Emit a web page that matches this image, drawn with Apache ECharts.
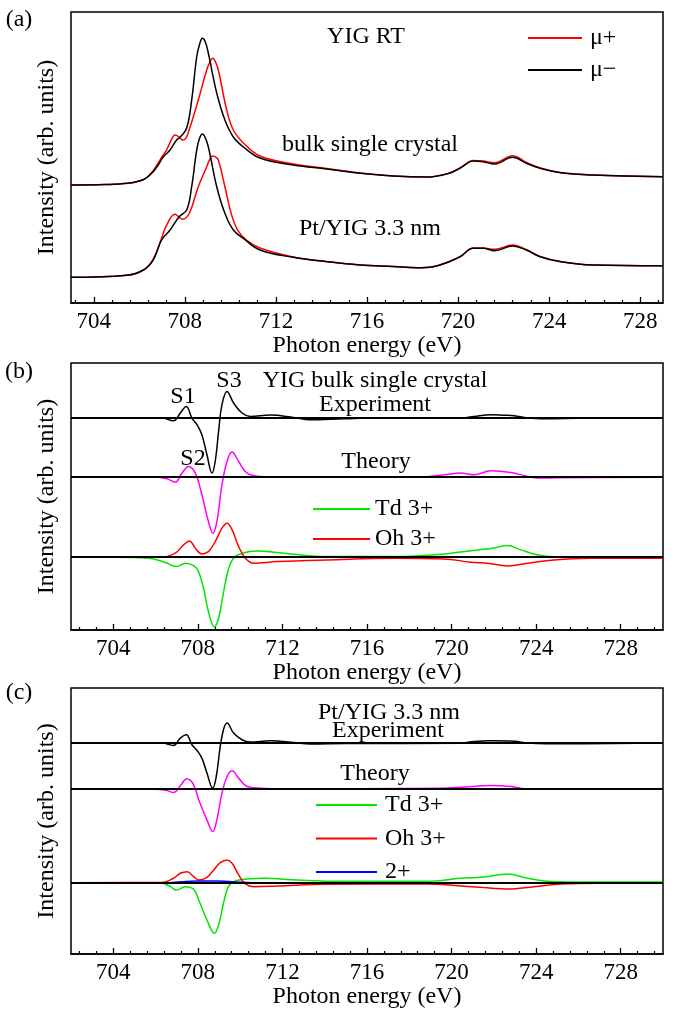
<!DOCTYPE html>
<html>
<head>
<meta charset="utf-8">
<script src="https://cdn.jsdelivr.net/npm/echarts@6/dist/echarts.min.js"></script>
<style>
  html, body { margin: 0; padding: 0; background: #fff; }
  #chart { width: 679px; height: 1013px; }
</style>
</head>
<body>
<div id="chart"></div>
<script>
// Fe L2,3-edge XMCD of YIG: (a) XAS for both helicities, (b) bulk crystal, (c) Pt/YIG 3.3 nm

const FONT = '"Liberation Serif", "Times New Roman", serif';

// axis ticks (eV)
const majorTicks = [704, 708, 712, 716, 720, 724, 728];
const minorTicksA = [703.2, 704.8, 705.6, 706.4, 707.2, 708.8, 709.6, 710.4, 711.2, 712.8, 713.6, 714.4, 715.2,
  716.8, 717.6, 718.4, 719.2, 720.8, 721.6, 722.4, 723.2, 724.8, 725.6, 726.4, 727.2, 728.8];
const minorTicksBC = [702.4, 703.2, 704.8, 705.6, 706.4, 707.2, 708.8, 709.6, 710.4, 711.2, 712.8, 713.6, 714.4, 715.2,
  716.8, 717.6, 718.4, 719.2, 720.8, 721.6, 722.4, 723.2, 724.8, 725.6, 726.4, 727.2, 728.8, 729.6];

// (a) bulk single crystal, mu+ and mu-
const bulkMuPlus = [[703.0,40.55],[704.5,40.72],[705.5,41.13],[706.0,41.92],[706.3,42.95],[706.6,45.36],[706.8,47.76],
  [707.05,50.85],[707.2,52.57],[707.4,56.01],[707.57,57.72],[707.75,57.04],[707.9,56.01],[708.05,56.69],[708.23,60.47],
  [708.59,69.75],[708.96,80.06],[709.1,82.8],[709.22,84.08],[709.35,82.8],[709.47,80.06],[709.84,66.31],[710.13,59.44],
  [710.57,54.98],[711.3,50.51],[712.76,47.76],[714.23,46.21],[715.7,44.67],[717.15,43.64],[718.6,43.29],[719.6,44.57],
  [720.1,46.49],[720.67,48.96],[721.1,48.79],[721.6,48.21],[722.4,50.61],[723.0,48.28],[723.6,46.39],[724.5,44.84],
  [725.9,43.98],[729.0,43.4]];
const bulkMuMinus = [[703.0,40.55],[704.5,40.72],[705.5,41.13],[706.0,41.92],[706.3,42.95],[706.6,45.01],[706.8,47.07],
  [707.05,50.17],[707.35,52.57],[707.64,56.01],[707.8,57.04],[708.08,60.13],[708.3,69.75],[708.52,84.53],[708.65,89.0],
  [708.77,90.95],[708.9,89.7],[709.03,85.9],[709.4,72.16],[709.76,62.88],[710.13,57.04],[710.57,53.6],[711.3,49.82],
  [712.76,47.42],[714.23,46.04],[715.7,44.57],[717.15,43.64],[718.6,43.29],[719.6,44.57],[720.1,46.39],[720.67,48.79],
  [721.1,48.55],[721.6,47.76],[722.4,50.06],[723.0,48.0],[723.6,46.28],[724.5,44.77],[725.9,43.98],[729.0,43.4]];

// (a) Pt/YIG 3.3 nm, mu+ and mu-
const filmMuPlus = [[703.0,8.83],[705.45,9.52],[706.18,11.34],[706.61,15.12],[706.98,22.33],[707.2,26.8],[707.57,30.48],
  [707.9,28.76],[708.2,30.92],[708.59,39.96],[708.96,46.83],[709.1,49.48],[709.22,50.51],[709.35,50.17],[709.47,49.13],
  [709.76,39.96],[710.03,30.92],[710.32,25.08],[710.7,21.65],[711.3,18.9],[712.76,15.81],[714.23,14.26],[715.7,13.06],
  [717.15,12.54],[718.2,12.13],[718.9,12.47],[719.6,14.19],[720.1,15.98],[720.67,18.9],[721.1,18.9],[721.6,18.45],
  [722.4,19.93],[723.0,18.32],[723.6,15.98],[724.5,14.26],[725.9,13.06],[729.0,12.82]];
const filmMuMinus = [[703.0,8.83],[705.45,9.52],[706.18,11.34],[706.61,14.77],[706.98,21.65],[707.35,25.08],[707.75,29.65],
  [708.08,31.95],[708.3,39.96],[708.52,52.57],[708.65,56.69],[708.77,58.07],[708.9,56.69],[709.03,53.7],[709.4,39.96],
  [709.76,30.82],[710.13,25.08],[710.57,22.23],[711.3,18.21],[712.76,15.7],[714.23,14.19],[715.7,13.06],[717.15,12.54],
  [718.2,12.13],[718.9,12.47],[719.6,14.19],[720.1,15.91],[720.67,18.79],[721.1,18.79],[721.6,17.97],[722.4,19.59],
  [723.0,18.21],[723.6,15.91],[724.5,14.19],[725.9,13.06],[729.0,12.82]];

// (b) bulk single crystal XMCD
const bulkBase = [79.39, 57.26, 27.26];
const bulkExp = [[702,79.39],[706.3,79.39],[706.85,78.38],[707.17,81.26],[707.45,83.74],[707.72,79.39],[707.96,76.88],
  [708.19,73.13],[708.43,65.63],[708.67,58.76],[708.82,63.11],[708.98,74.36],[709.14,84.38],[709.38,89.36],[709.69,85.01],
  [710.09,81.26],[710.48,79.99],[711.43,80.51],[712.53,79.61],[713.3,78.75],[714.9,79.13],[716.5,79.39],[720.4,79.31],
  [721.07,79.99],[721.86,80.63],[722.5,80.44],[722.96,80.25],[723.6,79.39],[724.5,79.13],[726,79.31],[730,79.39]];
const bulkTheory = [[702,57.26],[706.0,57.26],[706.54,56.63],[706.93,55.39],[707.25,58.76],[707.56,61.24],[707.88,58.76],
  [708.19,50.63],[708.5,40.61],[708.71,36.26],[708.9,40.61],[709.14,54.38],[709.38,63.11],[709.62,66.64],[709.93,63.11],
  [710.33,58.76],[710.96,57.49],[712,57.26],[718.5,57.26],[719.65,58.13],[720.44,58.76],[721.07,58.13],[721.86,59.63],
  [722.8,58.99],[723.6,57.49],[724.1,56.89],[725,57.04],[730,57.19]];
const bulkTd = [[702,27.26],[705.0,27.19],[705.9,26.63],[706.54,25.01],[707.0,23.74],[707.4,25.01],[707.8,24.11],
  [708.03,21.86],[708.27,15.64],[708.5,6.86],[708.78,1.24],[708.98,4.39],[709.22,14.36],[709.46,23.14],[709.69,26.89],
  [710.09,28.76],[710.8,29.63],[711.75,28.99],[713.0,28.01],[714.1,27.49],[717.27,27.49],[719.65,28.5],[720.44,29.25],
  [721.23,30.0],[722.0,30.75],[722.65,31.61],[723.28,30.0],[724.07,28.13],[725.2,27.38],[730,27.26]];
const bulkOh = [[702,27.26],[706.3,27.26],[706.93,28.76],[707.32,31.88],[707.6,33.38],[707.88,30.64],[708.19,28.5],
  [708.5,29.36],[708.82,33.11],[709.14,38.14],[709.38,40.01],[709.62,37.5],[709.93,31.24],[710.25,26.89],[710.64,25.01],
  [711.75,25.61],[714.1,26.25],[717.3,26.89],[719.65,26.63],[720.9,25.39],[721.7,25.01],[722.65,24.0],[723.6,25.01],
  [724.85,26.25],[726.5,26.89],[730,26.89]];

// (c) Pt/YIG 3.3 nm XMCD
const filmBase = [79.61, 62.55, 27.92];
const filmExp = [[702,79.61],[706.3,79.61],[706.85,78.72],[707.17,81.46],[707.45,82.69],[707.72,78.98],[707.96,76.87],
  [708.19,74.05],[708.43,68.49],[708.7,62.92],[708.87,67.23],[709.06,78.35],[709.22,84.8],[709.38,87.03],[709.69,83.32],
  [710.09,80.83],[710.48,79.98],[711.43,80.46],[712.53,79.83],[713.3,79.24],[715,79.42],[720.4,79.54],[721.07,80.2],
  [721.86,80.46],[722.96,80.28],[723.6,79.61],[724.5,79.35],[730,79.61]];
const filmTheory = [[702,62.55],[706.0,62.55],[706.54,62.03],[706.85,61.29],[707.17,63.78],[707.48,66.37],[707.8,64.15],
  [708.04,58.59],[708.43,51.17],[708.7,46.83],[708.9,51.17],[709.14,61.07],[709.38,67.23],[709.62,69.34],[709.93,66.63],
  [710.33,63.52],[710.96,62.92],[712,62.66],[719.5,62.92],[720.44,63.21],[721.86,63.89],[722.8,63.52],[723.6,62.55],
  [730,62.55]];
const filmTd = [[702,27.92],[705.5,27.81],[706.3,27.7],[706.7,26.44],[707.0,25.21],[707.4,26.44],[707.8,25.47],
  [708.04,21.51],[708.43,14.09],[708.78,9.16],[709.0,12.87],[709.25,21.51],[709.5,27.07],[709.95,28.92],[711.1,29.55],
  [712.7,28.92],[714.3,28.44],[718.85,28.44],[720.44,29.55],[721.5,30.03],[722.65,31.15],[723.6,29.55],[724.4,28.55],
  [726,28.18],[730,28.18]];
const filmOh = [[702,27.92],[706.3,27.99],[706.85,29.55],[707.17,31.41],[707.5,32.0],[707.8,30.15],[708.04,28.92],
  [708.43,29.92],[708.75,32.63],[709.06,35.34],[709.38,36.34],[709.62,35.11],[709.93,30.78],[710.25,27.44],[710.64,26.44],
  [711.75,26.7],[714.1,27.33],[718.85,27.44],[720.44,26.7],[721.5,26.14],[722.65,25.59],[723.9,26.44],[725.2,27.44],
  [727,27.7],[730,27.7]];
const filmFe2 = [[702,27.92],[706.5,27.92],[707.2,28.29],[708.0,28.55],[709.0,28.55],[709.8,28.18],[711,27.92],[730,27.92]];

const RED = '#ff0000', BLACK = '#000000', MAGENTA = '#ff00ff', GREEN = '#00e600', BLUE = '#0000ff';

const textStyle = { fontFamily: FONT, fontSize: 24, color: '#000' };

function energyAxes(gridIndex, min, max, minor, nameGap) {
  return [
    {
      type: 'value', gridIndex, min, max, position: 'bottom',
      axisLine: { show: true, onZero: false, lineStyle: { color: '#000', width: 1.5 } },
      axisTick: { show: true, inside: true, length: 6, customValues: majorTicks, lineStyle: { color: '#000', width: 1.3 } },
      axisLabel: { customValues: majorTicks, margin: 7, fontFamily: FONT, fontSize: 23, color: '#000' },
      splitLine: { show: false },
      name: 'Photon energy (eV)', nameLocation: 'middle', nameGap,
      nameTextStyle: textStyle
    },
    {
      type: 'value', gridIndex, min, max, position: 'bottom',
      axisLine: { show: false, onZero: false },
      axisTick: { show: true, inside: true, length: 3, customValues: minor, lineStyle: { color: '#000', width: 1.2 } },
      axisLabel: { show: false },
      splitLine: { show: false }
    }
  ];
}

function intensityAxis(gridIndex, min, max) {
  return {
    type: 'value', gridIndex, min, max,
    axisLine: { show: false }, axisTick: { show: false }, axisLabel: { show: false }, splitLine: { show: false },
    name: 'Intensity (arb. units)', nameLocation: 'middle', nameGap: 12, nameTextStyle: textStyle
  };
}

function curve(name, data, color, xAxisIndex, yAxisIndex, extra) {
  return Object.assign({
    type: 'line', name, data, xAxisIndex, yAxisIndex,
    symbol: 'none', smooth: 0.4,
    lineStyle: { color, width: 1.5 }, itemStyle: { color },
    emphasis: { disabled: true }, silent: true
  }, extra || {});
}

// black zero lines under each offset spectrum
function baselines(values) {
  return {
    silent: true, symbol: 'none', animation: false,
    label: { show: false },
    lineStyle: { color: '#000', width: 2, type: 'solid' },
    emphasis: { disabled: true },
    data: values.map(v => ({ yAxis: v }))
  };
}

function label(text, x, y) {
  return { type: 'text', x, y, style: { text, fontFamily: FONT, fontSize: 24, fill: '#000', align: 'center', verticalAlign: 'middle' } };
}

const legendBase = { orient: 'vertical', padding: 0, icon: 'rect', itemHeight: 2, selectedMode: false };

const chart = echarts.init(document.getElementById('chart'), null, { renderer: 'canvas' });

chart.setOption({
  animation: false,
  backgroundColor: '#fff',
  grid: [
    { left: 71, width: 592, top: 12, height: 291, show: true, borderColor: '#000', borderWidth: 1.5, containLabel: false },
    { left: 71, width: 592, top: 363, height: 267, show: true, borderColor: '#000', borderWidth: 1.5, containLabel: false },
    { left: 71, width: 592, top: 688, height: 266, show: true, borderColor: '#000', borderWidth: 1.5, containLabel: false }
  ],
  xAxis: [].concat(
    energyAxes(0, 703, 729, minorTicksA, 30),
    energyAxes(1, 702, 730, minorTicksBC, 30),
    energyAxes(2, 702, 730, minorTicksBC, 26)
  ),
  yAxis: [intensityAxis(0, 0, 100), intensityAxis(1, 0, 100), intensityAxis(2, 1.5, 100)],
  legend: [
    Object.assign({}, legendBase, {
      left: 528, top: 26, itemWidth: 54, itemGap: 8,
      textStyle: Object.assign({ padding: [0, 0, 0, 3] }, textStyle), data: ['μ+', 'μ−']
    }),
    Object.assign({}, legendBase, {
      left: 313, top: 497, itemWidth: 57, itemGap: 6,
      textStyle: Object.assign({ padding: [0, 0, 0, 0] }, textStyle), data: ['Td 3+', 'Oh 3+']
    }),
    Object.assign({}, legendBase, {
      left: 316, top: 793, itemWidth: 61, itemGap: 9.5,
      textStyle: Object.assign({ padding: [0, 0, 0, 3] }, textStyle), data: ['Td 3+', 'Oh 3+', '2+']
    })
  ],
  series: [
    curve('μ+', bulkMuPlus, RED, 0, 0),
    curve('μ+', filmMuPlus, RED, 0, 0),
    curve('μ−', bulkMuMinus, BLACK, 0, 0),
    curve('μ−', filmMuMinus, BLACK, 0, 0),

    curve('Experiment (bulk)', bulkExp, BLACK, 2, 1, { markLine: baselines(bulkBase) }),
    curve('Theory (bulk)', bulkTheory, MAGENTA, 2, 1),
    curve('Td 3+', bulkTd, GREEN, 2, 1),
    curve('Oh 3+', bulkOh, RED, 2, 1),

    curve('Experiment (Pt/YIG)', filmExp, BLACK, 4, 2, { markLine: baselines(filmBase) }),
    curve('Theory (Pt/YIG)', filmTheory, MAGENTA, 4, 2),
    curve('Td 3+', filmTd, GREEN, 4, 2),
    curve('Oh 3+', filmOh, RED, 4, 2),
    curve('2+', filmFe2, BLUE, 4, 2)
  ],
  graphic: [
    label('(a)', 19, 20),
    label('YIG RT', 366, 37),
    label('bulk single crystal', 370, 145),
    label('Pt/YIG 3.3 nm', 370, 229),

    label('(b)', 19, 372),
    label('S1', 183, 397),
    label('S3', 229, 381),
    label('S2', 193, 459),
    label('YIG bulk single crystal', 375, 381),
    label('Experiment', 375, 405),
    label('Theory', 376, 462),

    label('(c)', 19, 693),
    label('Pt/YIG 3.3 nm', 389, 713),
    label('Experiment', 388, 731),
    label('Theory', 375, 774)
  ]
});
</script>
</body>
</html>
